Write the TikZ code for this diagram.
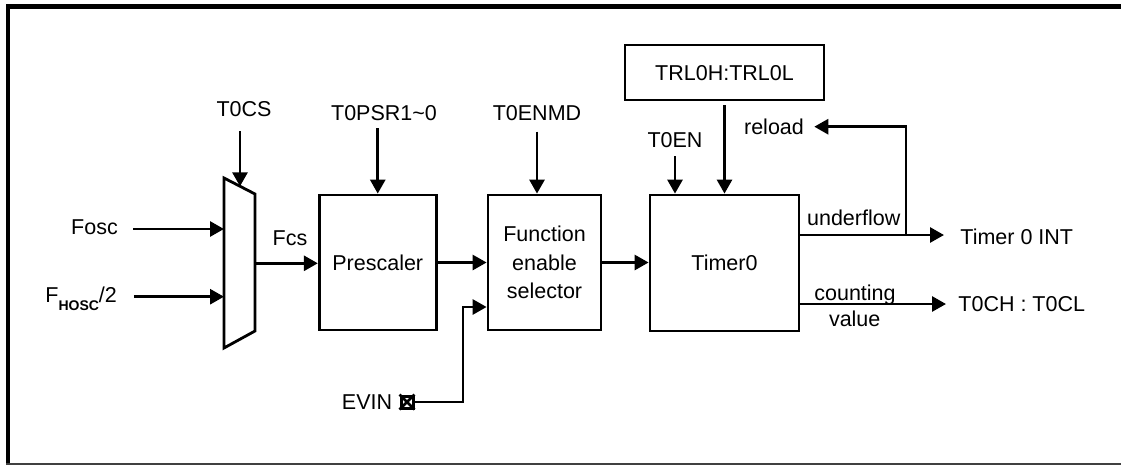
\documentclass[tikz,border=0pt]{standalone}
\usepackage{fontspec}
\setmainfont{Liberation Sans}
\usetikzlibrary{arrows.meta}
\begin{document}
\begin{tikzpicture}[x=1pt,y=-1pt,
  line width=2.8pt,
  arr/.style={-{Triangle[length=14pt,width=15pt]}},
  txt/.style={font=\fontsize{21.5}{28.5}\selectfont},
  lbl/.style={txt,inner sep=0,text height=15.4pt,text depth=0pt},
  blk/.style={draw,line width=2.8pt,inner sep=0,txt},
  one/.style={text height=15.4pt,text depth=0pt}]
\useasboundingbox (0,0) rectangle (1121,466);
% frame
\draw[line width=4.5pt] (6,6.5) -- (1121,6.5);
\draw[line width=4pt] (8,4.5) -- (8,464);
\draw[line width=2pt,black!75] (6,464) -- (1121,464);
% mux
\draw[line join=miter] (224,178) -- (255,194) -- (255,331) -- (224,348) -- cycle;
\coordinate (muxA) at (224,229);
\coordinate (muxB) at (224,296.7);
\coordinate (muxTop) at (240,186.3);
\coordinate (muxOut) at (255,263.3);
% blocks
\node[blk,one,minimum width=117pt,minimum height=135pt] (pre) at (377.75,262.5) {Prescaler};
\node[blk,minimum width=113pt,minimum height=135pt,align=center] (fes) at (544.5,262.5) {Function\\enable\\selector};
\node[blk,one,minimum width=149pt,minimum height=136pt] (tim) at (724.5,263) {Timer0};
\node[blk,one,minimum width=199pt,minimum height=55pt] (trl) at (724.5,72.5) {TRL0H:TRL0L};
% labels
\node[lbl] (fosc) at (94.5,227) {Fosc};
\node[txt,inner sep=0,anchor=base west] (fhosc) at (44,302) {F\raisebox{-8pt}{\fontsize{14}{14}\selectfont\bfseries HOSC}/2};
\node[lbl] (t0cs) at (244,109) {T0CS};
\node[lbl] (fcs) at (290,237.5) {Fcs};
\node[lbl] (tpsr) at (384,113) {T0PSR1\textasciitilde 0};
\node[lbl] (tenmd) at (537,112.5) {T0ENMD};
\node[lbl] (evin) at (367,401.7) {EVIN};
\node[draw,line width=3pt,minimum size=12pt,inner sep=0] (evbox) at (407,402) {};
\draw[line width=2.6pt] (evbox.north west) -- (evbox.south east) (evbox.north east) -- (evbox.south west);
\node[lbl] (ten) at (675,140) {T0EN};
\node[lbl] (reload) at (774,126.7) {reload};
\node[lbl] (uflow) at (853.7,218) {underflow};
\node[lbl] (cnt) at (855,292.5) {counting};
\node[lbl] (val) at (854.7,319) {value};
\node[lbl,anchor=west] (tint) at (959,236.7) {Timer 0 INT};
\node[lbl,anchor=west] (tch) at (957,304) {T0CH : T0CL};
% connectors
\draw[arr,shorten <=14pt] (fosc.east |- muxA) -- (muxA);
\draw[arr,shorten <=15.5pt] (fhosc.east |- muxB) -- (muxB);
\draw[arr,shorten <=13pt] (t0cs.south -| muxTop) -- (muxTop);
\draw[arr] (muxOut) -- (pre.west |- muxOut);
\draw[arr,shorten <=6pt] (tpsr.south -| pre.north) -- (pre.north);
\draw[arr,shorten <=10pt] (tenmd.south) -- (tenmd.south |- fes.north);
\draw[arr] (pre.east) -- (fes.west |- pre.east);
\coordinate (evc) at (463,307);
\draw[arr] (evbox.east) -| (evc) -- (evc -| fes.west);
\draw[arr] (fes.east) -- (tim.west |- fes.east);
\draw[arr,shorten <=7pt] (ten.south) -- (ten.south |- tim.north);
\draw[arr,shorten <=4pt] (trl.south) -- (tim.north);
\coordinate (rl) at (906,235);
\draw[arr,shorten >=15pt] (tim.east |- rl) -- (tint.west |- rl);
\draw[arr,shorten >=9pt] (rl) |- (reload.east);
\draw[arr,shorten >=11pt] (tim.east |- tch.west) -- (tch.west);
\end{tikzpicture}
\end{document}
